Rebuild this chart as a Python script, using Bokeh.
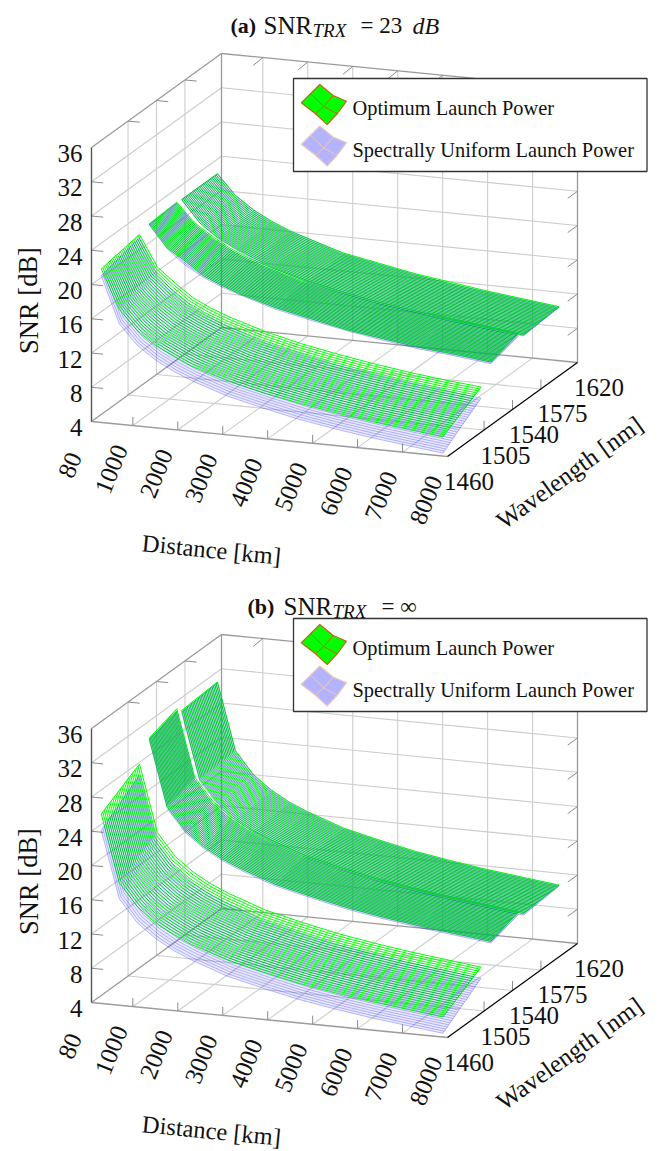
from bokeh.plotting import figure
from bokeh.models import Range1d
from bokeh.core.properties import value
from bokeh.embed import file_html
from bokeh.resources import INLINE

# ---- axis ticks
DIST_TICKS = [80, 1000, 2000, 3000, 4000, 5000, 6000, 7000, 8000]
WL_TICKS = [1460, 1505, 1540, 1575, 1620]
SNR_TICKS = [4, 8, 12, 16, 20, 24, 28, 32, 36]

# ---- values: SNR [dB] along each edge of each band
DIST = [80, 480, 880, 1280, 1680, 2080, 2880, 3680, 4480, 5280, 6080, 6880, 7680]
WL_S = [1472, 1519]
WL_C = [1531, 1565]
WL_L = [1571, 1615]

# (a) SNR_TRX = 23 dB, optimum launch power
A_OPT_S_LO = [21.0, 16.5, 14.2, 12.7, 11.7, 10.7, 9.4, 8.4, 7.6, 6.9, 6.3, 5.8, 5.3]
A_OPT_S_HI = [21.8, 18.2, 16.5, 15.0, 14.0, 13.2, 11.9, 10.9, 10.1, 9.4, 8.8, 8.3, 7.9]
A_OPT_C_LO = [22.2, 19.6, 18.3, 16.8, 15.9, 15.1, 13.9, 13.0, 12.1, 11.5, 10.9, 10.5, 10.0]
A_OPT_C_HI = [22.4, 20.2, 18.8, 17.6, 16.7, 16.0, 14.8, 13.9, 13.1, 12.5, 12.0, 11.5, 11.0]
A_OPT_L_LO = [22.3, 19.8, 18.3, 17.2, 16.3, 15.5, 14.3, 13.4, 12.6, 12.0, 11.4, 10.9, 10.4]
A_OPT_L_HI = [22.3, 20.0, 18.5, 17.4, 16.5, 15.8, 14.5, 13.7, 12.9, 12.3, 11.7, 11.2, 10.7]
# (a) spectrally uniform launch power
A_UNI_S_LO = [20.2, 14.8, 12.5, 11.0, 9.9, 9.0, 7.6, 6.6, 5.7, 5.0, 4.4, 3.9, 3.4]
A_UNI_S_HI = [21.4, 17.3, 15.3, 13.9, 12.9, 12.0, 10.6, 9.7, 8.8, 8.2, 7.6, 7.1, 6.6]
A_UNI_C_LO = [22.1, 19.5, 17.8, 16.6, 15.7, 15.0, 13.7, 12.8, 12.0, 11.3, 10.7, 10.3, 9.8]
A_UNI_C_HI = [22.3, 20.0, 18.5, 17.4, 16.5, 15.8, 14.5, 13.7, 12.9, 12.3, 11.7, 11.2, 10.7]
A_UNI_L_LO = [22.3, 19.8, 18.2, 17.1, 16.1, 15.4, 14.1, 13.2, 12.4, 11.8, 11.2, 10.7, 10.3]
A_UNI_L_HI = [22.3, 19.9, 18.5, 17.3, 16.4, 15.8, 14.4, 13.6, 12.8, 12.1, 11.6, 11.1, 10.6]

# (b) SNR_TRX = infinity, optimum launch power
B_OPT_S_LO = [25.2, 17.4, 14.8, 13.1, 12.0, 11.0, 9.6, 8.6, 7.7, 7.0, 6.4, 5.9, 5.4]
B_OPT_S_HI = [27.8, 20.0, 17.4, 15.8, 14.6, 13.7, 12.2, 11.2, 10.3, 9.6, 9.0, 8.5, 8.0]
B_OPT_C_LO = [30.0, 22.2, 19.6, 18.0, 16.8, 15.9, 14.4, 13.4, 12.5, 11.8, 11.2, 10.7, 10.2]
B_OPT_C_HI = [31.1, 23.3, 20.7, 19.1, 17.9, 17.0, 15.5, 14.5, 13.6, 12.9, 12.3, 11.8, 11.3]
B_OPT_L_LO = [30.5, 22.7, 20.1, 18.5, 17.3, 16.4, 14.9, 13.9, 13.0, 12.3, 11.7, 11.2, 10.7]
B_OPT_L_HI = [30.8, 23.0, 20.4, 18.8, 17.6, 16.7, 15.2, 14.2, 13.3, 12.6, 12.0, 11.5, 11.0]
# (b) spectrally uniform launch power
B_UNI_S_LO = [23.3, 15.5, 12.9, 11.3, 10.1, 9.2, 7.7, 6.7, 5.8, 5.1, 4.5, 4.0, 3.5]
B_UNI_S_HI = [26.5, 18.7, 16.1, 14.5, 13.3, 12.4, 10.9, 9.9, 9.0, 8.3, 7.7, 7.2, 6.7]
B_UNI_C_LO = [29.8, 22.0, 19.4, 17.8, 16.6, 15.7, 14.2, 13.2, 12.3, 11.6, 11.0, 10.5, 10.0]
B_UNI_C_HI = [30.8, 23.0, 20.4, 18.8, 17.6, 16.7, 15.2, 14.2, 13.3, 12.6, 12.0, 11.5, 11.0]
B_UNI_L_LO = [30.3, 22.5, 19.9, 18.3, 17.1, 16.2, 14.7, 13.7, 12.8, 12.1, 11.5, 11.0, 10.5]
B_UNI_L_HI = [30.7, 22.9, 20.3, 18.7, 17.5, 16.6, 15.1, 14.1, 13.2, 12.5, 11.9, 11.4, 10.9]

LEGEND_LABELS = ["Optimum Launch Power", "Spectrally Uniform Launch Power"]

SERIF = value("Liberation Serif")
N_LINES = 26
GREEN = "#00ff00"
BLUE = "#0000ff"
GRID = "#cdcdcd"
EDGE = "#9a9a9a"
TICK = "#8c8c8c"

p = figure(width=659, height=1151, output_backend="svg", toolbar_location=None,
           x_range=Range1d(0, 659), y_range=Range1d(1151, 0),
           min_border=0, outline_line_color=None, x_axis_location=None, y_axis_location=None)
p.grid.visible = False
p.background_fill_color = "white"


def proj(d, w, z, dy):
    dn = (d - 80) / 7920
    wn = (w - 1460) / 160
    return 91 + 356 * dn + 130 * wn, dy + 421 + 35 * dn - 94 * wn - 8.5625 * (z - 4)


def seg(xs, ys, a, b, dy):
    pa, pb = proj(*a, dy), proj(*b, dy)
    xs.append([pa[0], pb[0]])
    ys.append([pa[1], pb[1]])


def draw_frame(dy):
    xs, ys = [], []
    for d in DIST_TICKS[1:-1]:
        seg(xs, ys, (d, 1620, 4), (d, 1620, 36), dy)
        seg(xs, ys, (d, 1460, 4), (d, 1620, 4), dy)
    for w in WL_TICKS[1:-1]:
        seg(xs, ys, (80, w, 4), (80, w, 36), dy)
        seg(xs, ys, (80, w, 4), (8000, w, 4), dy)
    for z in SNR_TICKS[1:-1]:
        seg(xs, ys, (80, 1460, z), (80, 1620, z), dy)
        seg(xs, ys, (80, 1620, z), (8000, 1620, z), dy)
    p.multi_line(xs, ys, line_color=GRID, line_width=1.1)

    xs, ys = [], []
    for a, b in [((80, 1460, 4), (8000, 1460, 4)), ((80, 1460, 4), (80, 1620, 4)),
                 ((80, 1620, 4), (8000, 1620, 4)), ((80, 1620, 4), (80, 1620, 36)),
                 ((8000, 1620, 4), (8000, 1620, 36)), ((80, 1460, 36), (80, 1620, 36)),
                 ((80, 1620, 36), (8000, 1620, 36))]:
        seg(xs, ys, a, b, dy)
    p.multi_line(xs, ys, line_color=EDGE, line_width=1.3)

    # short tick marks
    xs, ys = [], []
    for d in DIST_TICKS[1:-1]:
        seg(xs, ys, (d, 1460, 4), (d, 1460, 5), dy)
        seg(xs, ys, (d, 1620, 36), (d, 1608, 35.9), dy)
    for w in WL_TICKS[1:-1]:
        seg(xs, ys, (8000, w, 4), (8000, w, 5.1), dy)
        seg(xs, ys, (80, w, 36), (340, w, 36), dy)
    for z in SNR_TICKS[1:-1]:
        seg(xs, ys, (80, 1460, z), (340, 1460, z), dy)
        seg(xs, ys, (8000, 1620, z), (8000, 1608, z), dy)
    p.multi_line(xs, ys, line_color=TICK, line_width=1)

    a, b = proj(80, 1460, 4, dy), proj(80, 1460, 36, dy)
    p.line([a[0], b[0]], [a[1], b[1]], line_color="#555555", line_width=1.4)
    a, b = proj(8000, 1460, 4, dy), proj(8000, 1620, 4, dy)
    p.line([a[0], b[0]], [a[1], b[1]], line_color="#000000", line_width=1.2)


def draw_tint(wl, lo, hi, color, alpha, dy):
    """A faint wash over one band, between its two edge curves."""
    low = [proj(d, wl[0], z, dy) for d, z in zip(DIST, lo)]
    high = [proj(d, wl[1], z, dy) for d, z in zip(DIST, hi)]
    ring = low + high[::-1]
    p.patch([q[0] for q in ring], [q[1] for q in ring], fill_color=color, fill_alpha=alpha, line_color=None)


def draw_band(wl, lo, hi, color, alpha, width, dy):
    """One band of the mesh, its lines run between the two edge curves read above."""
    xs, ys = [], []
    for i in range(N_LINES + 1):
        t = i / N_LINES
        pts = [proj(d, wl[0] + t * (wl[1] - wl[0]), a + t * (b - a), dy)
               for d, a, b in zip(DIST, lo, hi)]
        xs.append([q[0] for q in pts])
        ys.append([q[1] for q in pts])
    for k in (0, len(DIST) - 1):
        q0, q1 = proj(DIST[k], wl[0], lo[k], dy), proj(DIST[k], wl[1], hi[k], dy)
        xs.append([q0[0], q1[0]])
        ys.append([q0[1], q1[1]])
    p.multi_line(xs, ys, line_color=color, line_alpha=alpha, line_width=width)


def draw_labels(dy):
    xt, yt, tt = [], [], []
    for d in DIST_TICKS:
        q = proj(d, 1460, 4, dy)
        xt.append(q[0] - 21.7); yt.append(q[1] + 43.5); tt.append(str(d))
    p.text(xt, yt, tt, angle=1.19, text_font=SERIF, text_font_size="25px",
           text_align="center", text_baseline="middle", text_color="#111111")
    xt, yt, tt = [], [], []
    for w in WL_TICKS:
        q = proj(8000, w, 4, dy)
        xt.append(q[0] + 21.5); yt.append(q[1] + 25); tt.append(str(w))
    p.text(xt, yt, tt, text_font=SERIF, text_font_size="25px",
           text_align="center", text_baseline="middle", text_color="#111111")
    xt, yt, tt = [], [], []
    for z in SNR_TICKS:
        q = proj(80, 1460, z, dy)
        xt.append(q[0] - 9); yt.append(q[1] + 6); tt.append(str(z))
    p.text(xt, yt, tt, text_font=SERIF, text_font_size="25px",
           text_align="right", text_baseline="middle", text_color="#111111")
    p.text([28], [300 + dy], ["SNR [dB]"], angle=1.5708, text_font=SERIF, text_font_size="26.5px",
           text_align="center", text_baseline="middle", text_color="#111111")
    p.text([211], [549 + dy], ["Distance [km]"], angle=-0.098, text_font=SERIF, text_font_size="24.5px",
           text_align="center", text_baseline="middle", text_color="#111111")
    p.text([569], [472 + dy], ["Wavelength [nm]"], angle=0.626, text_font=SERIF, text_font_size="25px",
           text_align="center", text_baseline="middle", text_color="#111111")


def draw_legend(dy):
    p.quad(left=[293], right=[646.5], top=[78 + dy], bottom=[171 + dy], fill_color="white",
           line_color="#333333", line_width=1.3)
    outline = [(300.7, 102.3), (319.3, 84), (332.7, 95), (346, 100.7), (336.7, 113.3), (326.7, 124), (315, 113.3)]
    center = (323.3, 106)
    spokes = [((310, 93), center), ((332.7, 95), center), ((336.7, 113.3), center), ((315, 113.3), center)]
    for shift, fill, c1 in [(0, "#00ff00", "#c8620a"), (41.5, "#b3b3ff", "#eec9b4")]:
        p.patch([q[0] for q in outline], [q[1] + dy + shift for q in outline], fill_color=fill,
                line_color=c1, line_width=1.1)
        p.multi_line([[a[0], b[0]] for a, b in spokes], [[a[1] + dy + shift, b[1] + dy + shift] for a, b in spokes],
                     line_color=c1, line_width=1)
    p.text([352, 352], [107 + dy, 149 + dy], LEGEND_LABELS, text_font=SERIF, text_font_size="20.4px",
           text_align="left", text_baseline="middle", text_color="#111111")


def title_piece(x, y, t, size, style="normal"):
    p.text([x], [y], [t], text_font=SERIF, text_font_size=size, text_font_style=style,
           text_align="left", text_baseline="alphabetic", text_color="#111111")


PANELS = [
    (0, [(WL_S, A_OPT_S_LO, A_OPT_S_HI, A_UNI_S_LO, A_UNI_S_HI),
         (WL_C, A_OPT_C_LO, A_OPT_C_HI, A_UNI_C_LO, A_UNI_C_HI),
         (WL_L, A_OPT_L_LO, A_OPT_L_HI, A_UNI_L_LO, A_UNI_L_HI)], 0),
    (581, [(WL_S, B_OPT_S_LO, B_OPT_S_HI, B_UNI_S_LO, B_UNI_S_HI),
           (WL_C, B_OPT_C_LO, B_OPT_C_HI, B_UNI_C_LO, B_UNI_C_HI),
           (WL_L, B_OPT_L_LO, B_OPT_L_HI, B_UNI_L_LO, B_UNI_L_HI)], 540),
]

for dy, bands, legend_dy in PANELS:
    draw_frame(dy)
    for wl, olo, ohi, ulo, uhi in bands:
        draw_tint(wl, ulo, uhi, BLUE, 0.08, dy)
    for wl, olo, ohi, ulo, uhi in bands:
        draw_band(wl, olo, ohi, GREEN, 1.0, 1.0, dy)
    for wl, olo, ohi, ulo, uhi in bands:
        draw_band(wl, ulo, uhi, BLUE, 0.27, 1.0, dy)
    draw_labels(dy)
    draw_legend(legend_dy)

title_piece(230, 25, "(a)", "22px", "bold")
title_piece(263, 25, "SNR", "25px")
title_piece(312, 30, "TRX", "19px", "italic")
title_piece(360, 25, "= 23", "23px")
title_piece(412, 25, "dB", "24px", "italic")

title_piece(247, 606, "(b)", "22px", "bold")
title_piece(283, 606, "SNR", "25px")
title_piece(332, 611, "TRX", "19px", "italic")
title_piece(381, 606, "= ∞", "23px")

open("out.html", "w").write(file_html(p, INLINE))
